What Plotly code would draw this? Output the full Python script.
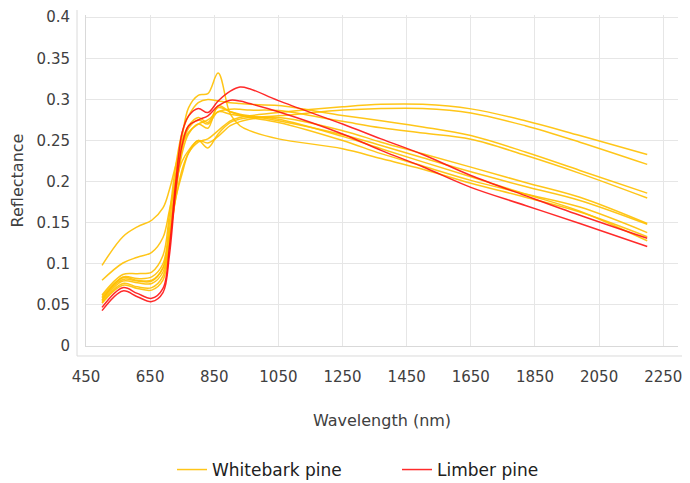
import plotly.graph_objects as go

# Wavelength sample points (nm)
wavelength = [500, 565, 610, 655, 690, 710, 730, 750, 770, 800, 830, 862, 900, 930, 960,
              1050, 1250, 1370, 1500, 1650, 1820, 1990, 2200]

# Whitebark pine spectra (reflectance)
wb1 = [0.055, 0.079, 0.077, 0.076, 0.090, 0.130, 0.180, 0.215, 0.235, 0.248, 0.252, 0.262, 0.274, 0.278, 0.280,
       0.284, 0.291, 0.294, 0.294, 0.2885, 0.274, 0.256, 0.233]
wb2 = [0.058, 0.081, 0.079, 0.079, 0.095, 0.135, 0.180, 0.210, 0.235, 0.250, 0.241, 0.258, 0.272, 0.276, 0.278,
       0.280, 0.287, 0.289, 0.289, 0.2836, 0.268, 0.248, 0.221]
wb3 = [0.062, 0.087, 0.088, 0.090, 0.110, 0.160, 0.220, 0.260, 0.280, 0.296, 0.300, 0.298, 0.296, 0.295, 0.294,
       0.2925, 0.2805, 0.274, 0.2665, 0.256, 0.236, 0.2136, 0.186]
wb4 = [0.098, 0.133, 0.145, 0.153, 0.168, 0.190, 0.220, 0.245, 0.260, 0.270, 0.275, 0.285, 0.288, 0.288, 0.287,
       0.2864, 0.2733, 0.2655, 0.259, 0.2515, 0.232, 0.210, 0.180]
wb5 = [0.080, 0.101, 0.108, 0.114, 0.132, 0.165, 0.200, 0.225, 0.238, 0.250, 0.247, 0.255, 0.268, 0.273, 0.276,
       0.278, 0.262, 0.248, 0.234, 0.2176, 0.199, 0.181, 0.149]
wb6 = [0.056, 0.084, 0.082, 0.084, 0.100, 0.150, 0.210, 0.250, 0.268, 0.278, 0.272, 0.290, 0.285, 0.282, 0.280,
       0.274, 0.257, 0.244, 0.229, 0.212, 0.194, 0.177, 0.148]
wb7 = [0.053, 0.076, 0.072, 0.071, 0.085, 0.130, 0.190, 0.235, 0.258, 0.270, 0.265, 0.292, 0.285, 0.281, 0.278,
       0.272, 0.250, 0.234, 0.219, 0.2015, 0.185, 0.169, 0.138]
wb8 = [0.060, 0.083, 0.080, 0.080, 0.095, 0.140, 0.200, 0.255, 0.290, 0.305, 0.307, 0.332, 0.282, 0.268, 0.262,
       0.252, 0.240, 0.228, 0.215, 0.198, 0.181, 0.163, 0.133]
wb9 = [0.052, 0.074, 0.070, 0.068, 0.080, 0.125, 0.185, 0.240, 0.265, 0.275, 0.270, 0.285, 0.282, 0.280, 0.279,
       0.276, 0.255, 0.240, 0.224, 0.206, 0.185, 0.164, 0.128]
whitebark = [wb1, wb2, wb3, wb4, wb5, wb6, wb7, wb8, wb9]

# Limber pine spectra (reflectance)
lp1 = [0.047, 0.071, 0.064, 0.058, 0.070, 0.120, 0.200, 0.260, 0.280, 0.289, 0.284, 0.298, 0.310, 0.315, 0.313,
       0.2985, 0.270, 0.252, 0.233, 0.2075, 0.183, 0.159, 0.131]
lp2 = [0.043, 0.067, 0.060, 0.054, 0.065, 0.110, 0.190, 0.245, 0.268, 0.275, 0.280, 0.292, 0.299, 0.298, 0.295,
       0.285, 0.258, 0.238, 0.218, 0.193, 0.171, 0.149, 0.121]
limber = [lp1, lp2]

x_ticks = [450, 650, 850, 1050, 1250, 1450, 1650, 1850, 2050, 2250]
y_ticks = [0, 0.05, 0.1, 0.15, 0.2, 0.25, 0.3, 0.35, 0.4]
y_labels = ["0", "0.05", "0.1", "0.15", "0.2", "0.25", "0.3", "0.35", "0.4"]

WB_COLOR = "#FFC000"
LP_COLOR = "#FF1414"
FONT = "DejaVu Sans"
TXT = "#404040"

fig = go.Figure()
for i, s in enumerate(whitebark):
    fig.add_trace(go.Scatter(x=wavelength, y=s, mode="lines",
                             line=dict(color=WB_COLOR, width=1.5, shape="spline", smoothing=1.0),
                             name="Whitebark pine", legendgroup="wb", showlegend=(i == 0),
                             opacity=0.9))
for i, s in enumerate(limber):
    fig.add_trace(go.Scatter(x=wavelength, y=s, mode="lines",
                             line=dict(color=LP_COLOR, width=1.5, shape="spline", smoothing=1.0),
                             name="Limber pine", legendgroup="lp", showlegend=(i == 0),
                             opacity=0.9))

# The page body has an 8px default margin, so the figure is sized to fit the window.
fig.update_layout(
    width=682, height=475,
    margin=dict(l=78, r=12, t=7, b=137, autoexpand=False),
    paper_bgcolor="white", plot_bgcolor="white",
    font=dict(family=FONT, size=15, color=TXT),
    legend=dict(orientation="h", x=0.1453, xanchor="left", y=-0.3746, yanchor="middle",
                font=dict(size=17, color="#202020"), itemwidth=30,
                entrywidth=180, entrywidthmode="pixels"),
    xaxis=dict(range=[450, 2296], tickvals=x_ticks, ticktext=[str(v) for v in x_ticks],
               showgrid=True, gridcolor="#E6E6E6", gridwidth=1,
               showline=True, linecolor="#D9D9D9", linewidth=1,
               zeroline=False, ticks="", ticklabelstandoff=17, automargin=False,
               tickfont=dict(size=15, color=TXT),
               title=dict(text="Wavelength (nm)", font=dict(size=16, color=TXT), standoff=29)),
    yaxis=dict(range=[0, 0.4027], tickvals=y_ticks, ticktext=y_labels,
               showgrid=True, gridcolor="#E6E6E6", gridwidth=1,
               showline=True, linecolor="#D9D9D9", linewidth=1,
               zeroline=False, ticks="", ticklabelstandoff=12, automargin=False,
               tickfont=dict(size=15, color=TXT),
               title=dict(text="Reflectance", font=dict(size=16, color=TXT), standoff=8)),
    shapes=[
        dict(type="line", xref="paper", yref="paper", x0=-0.0152, x1=-0.0152, y0=-0.0302, y1=1.015,
             line=dict(color="#DADADA", width=1)),
        dict(type="line", xref="paper", yref="paper", x0=-0.0152, x1=1.03, y0=-0.0302, y1=-0.0302,
             line=dict(color="#DADADA", width=1)),
    ],
)

fig.write_html("out.html")
